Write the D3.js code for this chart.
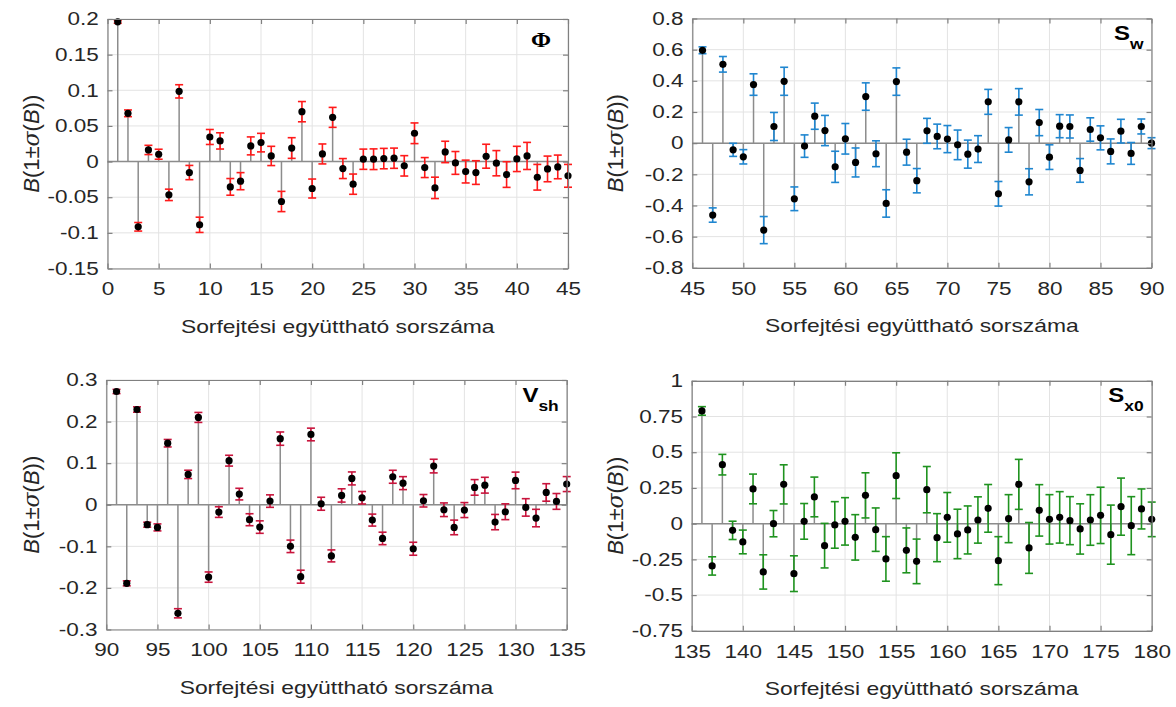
<!DOCTYPE html>
<html>
<head>
<meta charset="utf-8">
<script src="https://cdn.jsdelivr.net/npm/d3@7"></script>
<style>
  body { margin: 0; background: #fff; }
  svg { display: block; font-family: "Liberation Sans", Arial, sans-serif; }
</style>
</head>
<body>
<svg id="chart" width="1176" height="707"></svg>
<script>
// B values and sigma (absolute half-width of error bar)
const phiVals = [0.196, 0.0677, -0.0915, 0.0163, 0.0103, -0.0467, 0.0985, -0.0154, -0.0887, 0.0345,
  0.029, -0.0355, -0.0275, 0.022, 0.0266, 0.0079, -0.056, 0.019, 0.070, -0.0378,
  0.0107, 0.062, -0.0098, -0.0317, 0.0033, 0.0033, 0.0042, 0.0047, -0.006, 0.0397,
  -0.0084, -0.0369, 0.0135, -0.0019, -0.014, -0.0154, 0.0075, -0.0023, -0.0182, 0.0037,
  0.0079, -0.022, -0.0103, -0.0075, -0.020];
const phiErr = [0.002, 0.0047, 0.006, 0.0065, 0.007, 0.008, 0.0093, 0.010, 0.0107, 0.0105,
  0.0114, 0.0117, 0.012, 0.0126, 0.013, 0.0135, 0.0142, 0.0145, 0.0142, 0.0133,
  0.014, 0.014, 0.014, 0.0142, 0.0142, 0.0145, 0.0143, 0.0142, 0.0143, 0.0145,
  0.014, 0.015, 0.015, 0.016, 0.016, 0.0166, 0.0168, 0.0177, 0.018, 0.0177,
  0.019, 0.018, 0.018, 0.0166, 0.016];

const swVals = [0.596, -0.4615, 0.506, -0.043, -0.0876, 0.376, -0.558, 0.107, 0.397, -0.357,
  -0.019, 0.173, 0.081, -0.152, 0.028, -0.124, 0.299, -0.068, -0.387, 0.395,
  -0.058, -0.241, 0.079, 0.043, 0.026, -0.011, -0.0705, -0.038, 0.265, -0.325,
  0.021, 0.265, -0.248, 0.132, -0.0897, 0.109, 0.107, -0.175, 0.0876, 0.034,
  -0.053, 0.077, -0.066, 0.107, 0.0];
const swErr = [0.022, 0.046, 0.05, 0.042, 0.046, 0.069, 0.087, 0.09, 0.09, 0.076,
  0.072, 0.084, 0.097, 0.10, 0.098, 0.093, 0.088, 0.083, 0.088, 0.088,
  0.083, 0.078, 0.080, 0.079, 0.087, 0.095, 0.09, 0.086, 0.08, 0.079,
  0.079, 0.085, 0.084, 0.084, 0.079, 0.074, 0.074, 0.076, 0.075, 0.077,
  0.08, 0.076, 0.07, 0.048, 0.035];

const vshVals = [0.2724, -0.189, 0.229, -0.048, -0.0545, 0.148, -0.261, 0.073, 0.21, -0.174,
  -0.0176, 0.106, 0.0256, -0.036, -0.0537, 0.0088, 0.159, -0.100, -0.173, 0.169,
  0.0024, -0.123, 0.0224, 0.0633, 0.0168, -0.0369, -0.081, 0.0673, 0.052, -0.1058,
  0.0096, 0.093, -0.012, -0.0545, -0.0128, 0.0417, 0.047, -0.0417, -0.0168, 0.0585,
  -0.0064, -0.032, 0.0296, 0.008, 0.0497];
const vshErr = [0.005, 0.006, 0.0064, 0.006, 0.0084, 0.009, 0.011, 0.010, 0.012, 0.0124,
  0.0128, 0.013, 0.014, 0.0144, 0.015, 0.015, 0.016, 0.015, 0.0156, 0.0152,
  0.0156, 0.0144, 0.016, 0.0156, 0.015, 0.0144, 0.015, 0.0156, 0.0156, 0.0156,
  0.015, 0.0164, 0.0164, 0.0176, 0.018, 0.0188, 0.019, 0.0184, 0.019, 0.020,
  0.021, 0.021, 0.021, 0.019, 0.018];

const sx0Vals = [0.789, -0.296, 0.413, -0.047, -0.128, 0.243, -0.338, 0.0, 0.275, -0.35,
  0.016, 0.187, -0.154, -0.009, 0.016, -0.096, 0.198, -0.042, -0.247, 0.336,
  -0.187, -0.264, 0.238, -0.098, 0.044, -0.072, -0.044, 0.0257, 0.107, -0.259,
  0.035, 0.275, -0.170, 0.093, 0.030, 0.044, 0.021, -0.037, 0.0257, 0.058,
  -0.077, 0.119, -0.014, 0.103, 0.030];
const sx0Err = [0.03, 0.064, 0.072, 0.064, 0.083, 0.104, 0.12, 0.092, 0.137, 0.125,
  0.125, 0.139, 0.156, 0.163, 0.166, 0.159, 0.158, 0.152, 0.156, 0.16,
  0.157, 0.156, 0.162, 0.168, 0.174, 0.173, 0.168, 0.162, 0.167, 0.168,
  0.168, 0.175, 0.178, 0.18, 0.173, 0.18, 0.168, 0.176, 0.177, 0.197,
  0.207, 0.2, 0.203, 0.14, 0.121];

// tick values
const phiYTicks = [-0.15, -0.1, -0.05, 0, 0.05, 0.1, 0.15, 0.2];
const swYTicks = [-0.8, -0.6, -0.4, -0.2, 0, 0.2, 0.4, 0.6, 0.8];
const vshYTicks = [-0.3, -0.2, -0.1, 0, 0.1, 0.2, 0.3];
const sx0YTicks = [-0.75, -0.5, -0.25, 0, 0.25, 0.5, 0.75, 1];

const xTitle = "Sorfejtési együttható sorszáma";

const panels = [
  { vals: phiVals, err: phiErr, start: 1, xDom: [0, 45], yDom: [-0.15, 0.2], yTicks: phiYTicks,
    color: "#ff1a1a", box: [107.5, 19, 568, 268.5], label: "phi", ylabX: 39 },
  { vals: swVals, err: swErr, start: 46, xDom: [45, 90], yDom: [-0.8, 0.8], yTicks: swYTicks,
    color: "#1f86d0", box: [692.3, 18.5, 1151.5, 267.8], label: "w", ylabX: 623 },
  { vals: vshVals, err: vshErr, start: 91, xDom: [90, 135], yDom: [-0.3, 0.3], yTicks: vshYTicks,
    color: "#c8143c", box: [106.3, 380, 566.7, 629.5], label: "sh", ylabX: 39 },
  { vals: sx0Vals, err: sx0Err, start: 136, xDom: [135, 180], yDom: [-0.75, 1], yTicks: sx0YTicks,
    color: "#1f931f", box: [691.7, 380.8, 1151.7, 630.8], label: "x0", ylabX: 623 }
];

const svg = d3.select("#chart");
const textCol = "#262626";
const axisCol = "#808080";
const stretch = 1.25; // text in the source is wider than it is tall

panels.forEach(function(p) {
  const [x0, y0, x1, y1] = p.box;
  const x = d3.scaleLinear().domain(p.xDom).range([x0, x1]);
  const y = d3.scaleLinear().domain(p.yDom).range([y1, y0]);
  const g = svg.append("g");
  const xTicks = d3.range(p.xDom[0], p.xDom[1] + 1, 5);

  // grid
  g.selectAll("line.gx").data(xTicks).enter().append("line")
    .attr("x1", d => x(d)).attr("x2", d => x(d)).attr("y1", y0).attr("y2", y1)
    .attr("stroke", "#e3e3e3").attr("stroke-width", 1);
  g.selectAll("line.gy").data(p.yTicks).enter().append("line")
    .attr("x1", x0).attr("x2", x1).attr("y1", d => y(d)).attr("y2", d => y(d))
    .attr("stroke", "#e3e3e3").attr("stroke-width", 1);

  const data = p.vals.map((v, i) => ({ i: p.start + i, v: v, e: p.err[i] }));

  // stems
  g.selectAll("line.stem").data(data).enter().append("line")
    .attr("x1", d => x(d.i)).attr("x2", d => x(d.i))
    .attr("y1", y(0)).attr("y2", d => y(d.v))
    .attr("stroke", "#8c8c8c").attr("stroke-width", 1.5);
  // baseline
  g.append("line").attr("x1", x0).attr("x2", x1).attr("y1", y(0)).attr("y2", y(0))
    .attr("stroke", "#8c8c8c").attr("stroke-width", 1.5);

  // error bars
  const eb = g.selectAll("g.eb").data(data).enter().append("g")
    .attr("stroke", p.color).attr("stroke-width", 1.6);
  eb.append("line").attr("x1", d => x(d.i)).attr("x2", d => x(d.i))
    .attr("y1", d => y(d.v - d.e)).attr("y2", d => y(d.v + d.e));
  eb.append("line").attr("x1", d => x(d.i) - 4).attr("x2", d => x(d.i) + 4)
    .attr("y1", d => y(d.v - d.e)).attr("y2", d => y(d.v - d.e));
  eb.append("line").attr("x1", d => x(d.i) - 4).attr("x2", d => x(d.i) + 4)
    .attr("y1", d => y(d.v + d.e)).attr("y2", d => y(d.v + d.e));

  // markers
  g.selectAll("circle").data(data).enter().append("circle")
    .attr("cx", d => x(d.i)).attr("cy", d => y(d.v)).attr("r", 3.6)
    .attr("fill", "#000");

  // axes with inward ticks, box
  const fmt = d => String(+d.toFixed(2));
  const axB = d3.axisBottom(x).tickValues(xTicks).tickSizeInner(-5).tickSizeOuter(0).tickPadding(14).tickFormat(d3.format("d"));
  const axT = d3.axisTop(x).tickValues(xTicks).tickSizeInner(-5).tickSizeOuter(0).tickFormat("");
  const axL = d3.axisLeft(y).tickValues(p.yTicks).tickSizeInner(-5).tickSizeOuter(0).tickPadding(7).tickFormat(fmt);
  const axR = d3.axisRight(y).tickValues(p.yTicks).tickSizeInner(-5).tickSizeOuter(0).tickFormat("");
  [[axB, `translate(0,${y1})`], [axT, `translate(0,${y0})`], [axL, `translate(${x0},0)`], [axR, `translate(${x1},0)`]]
    .forEach(function(a) {
      const ag = g.append("g").attr("transform", a[1]).call(a[0]);
      ag.select(".domain").attr("stroke", axisCol).attr("stroke-width", 1.2);
      ag.selectAll(".tick line").attr("stroke", axisCol).attr("stroke-width", 1.2);
      ag.selectAll(".tick text").attr("fill", textCol).style("font-size", "18px")
        .attr("transform", `scale(${stretch},1)`)
        .style("font-family", "'Liberation Sans', Arial, sans-serif");
    });

  // x title
  g.append("text").attr("transform", `translate(${(x0 + x1) / 2},${y1 + 64.5}) scale(${stretch + 0.02},1)`)
    .attr("text-anchor", "middle").attr("fill", textCol).style("font-size", "18px")
    .text(xTitle);

  // y title
  const yl = g.append("text")
    .attr("transform", `translate(${p.ylabX},${(y0 + y1) / 2}) rotate(-90)`)
    .attr("text-anchor", "middle").attr("fill", textCol).style("font-size", "22px");
  yl.append("tspan").style("font-style", "italic").text("B");
  yl.append("tspan").text("(1\u00B1");
  yl.append("tspan").style("font-style", "italic").style("font-family", "'DejaVu Serif', serif").text("\u03C3");
  yl.append("tspan").text("(");
  yl.append("tspan").style("font-style", "italic").text("B");
  yl.append("tspan").text("))");

  // panel label
  if (p.label === "phi") {
    g.append("text").attr("transform", `translate(${x1 - 27},${y0 + 27.5}) scale(1.15,1)`)
      .attr("text-anchor", "middle")
      .attr("fill", "#000").style("font-family", "'Liberation Serif', 'Times New Roman', serif")
      .style("font-size", "21px").style("font-weight", "bold").text("\u03A6");
  } else {
    const t = g.append("text").attr("transform", `translate(${x1 - 8},${y0 + 21.5}) scale(1.2,1)`)
      .attr("text-anchor", "end")
      .attr("fill", "#000").style("font-weight", "bold").style("font-size", "20px");
    t.append("tspan").text(p.label === "sh" ? "V" : "S");
    t.append("tspan").attr("dy", 9).style("font-size", "14.5px").text(p.label);
  }
});
</script>
</body>
</html>
